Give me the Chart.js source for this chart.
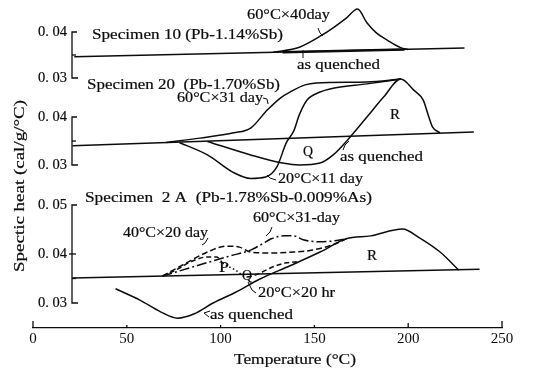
<!DOCTYPE html>
<html>
<head>
<meta charset="utf-8">
<script src="https://cdn.jsdelivr.net/npm/chart.js@4.4.1/dist/chart.umd.min.js"></script>
<style>
  body { margin: 0; background: #fff; }
  canvas { display: block; }
</style>
</head>
<body>
<canvas id="myChart" width="536" height="372"></canvas>
<script>
// temperature axis (°C)
const xTicks = [0, 50, 100, 150, 200, 250];

// Specimen 10 (Pb-1.14%Sb)
const s10BaseT = [22, 230];
const s10BaseV = [0.0346, 0.0365];
const s10QuenchT = [133, 198];
const s10QuenchV = [0.0356, 0.0362];
const s10AgedT = [128, 142, 154, 160, 167, 173, 178, 183, 189, 196, 200];
const s10AgedV = [0.0356, 0.0367, 0.0393, 0.0409, 0.0430, 0.0450, 0.0420, 0.0398, 0.0382, 0.0366, 0.0362];

// Specimen 20 (Pb-1.70%Sb)
const s20BaseT = [21, 235];
const s20BaseV = [0.0340, 0.0369];
const s20Aged60T = [71, 89, 107, 116, 125, 132, 137, 145, 151, 178, 196];
const s20Aged60V = [0.0347, 0.0356, 0.0367, 0.0377, 0.0415, 0.0440, 0.0452, 0.0467, 0.0471, 0.0473, 0.0479];
const s20Aged20T = [78, 93, 107, 116, 124, 130, 135, 139, 142, 146, 153, 160, 178, 196];
const s20Aged20V = [0.0347, 0.0321, 0.0284, 0.0272, 0.0275, 0.0296, 0.0346, 0.0371, 0.0405, 0.0435, 0.0452, 0.0460, 0.0469, 0.0479];
const s20QuenchT = [93, 116, 133, 142, 153, 160, 169, 178, 187, 196, 203, 208, 211, 213, 217];
const s20QuenchV = [0.0349, 0.0321, 0.0304, 0.0300, 0.0304, 0.0321, 0.0358, 0.0400, 0.0442, 0.0479, 0.0456, 0.0435, 0.0400, 0.0379, 0.0367];

// Specimen 2A (Pb-1.78%Sb-0.009%As)
const s2aBaseT = [21, 238];
const s2aBaseV = [0.0351, 0.0369];
const s2aQuenchT = [44, 57, 68, 77, 86, 96, 108, 121, 137, 153, 167, 180, 197, 206, 217, 227];
const s2aQuenchV = [0.0329, 0.0306, 0.0282, 0.0269, 0.0278, 0.0300, 0.0322, 0.0349, 0.0376, 0.0404, 0.0431, 0.0437, 0.0451, 0.0433, 0.0404, 0.0367];
const s2a40T = [69, 80, 93, 103, 110, 116, 126, 139, 149, 162, 167];
const s2a40V = [0.0355, 0.0378, 0.0404, 0.0416, 0.0414, 0.0404, 0.0402, 0.0404, 0.0408, 0.0422, 0.0431];
const s2a60T = [69, 89, 105, 116, 122, 127, 134, 139, 144, 153, 161, 167];
const s2a60V = [0.0355, 0.0378, 0.0396, 0.0408, 0.0420, 0.0431, 0.0437, 0.0437, 0.0429, 0.0425, 0.0427, 0.0431];
const s2a20hT = [69, 77, 84, 93, 98, 101, 108, 114, 121, 128, 135, 142];
const s2a20hV = [0.0355, 0.0369, 0.0384, 0.0394, 0.0394, 0.0382, 0.0367, 0.0353, 0.0361, 0.0374, 0.0382, 0.0384];

const INK = '#0c0c0c';
const SERIF = '"Liberation Serif", "DejaVu Serif", serif';

const pts = (t, v) => t.map((x, i) => ({ x: x, y: v[i] }));

const line = (t, v, axis, extra) => Object.assign({
  data: pts(t, v),
  yAxisID: axis,
  borderColor: INK,
  borderWidth: 1.5,
  pointRadius: 0,
  fill: false,
  cubicInterpolationMode: 'monotone'
}, extra || {});

const datasets = [
  line(s10BaseT, s10BaseV, 'y1', { cubicInterpolationMode: 'default', tension: 0 }),
  line(s10QuenchT, s10QuenchV, 'y1', { cubicInterpolationMode: 'default', tension: 0, borderWidth: 2.4 }),
  line(s10AgedT, s10AgedV, 'y1'),
  line(s20BaseT, s20BaseV, 'y2', { cubicInterpolationMode: 'default', tension: 0 }),
  line(s20Aged60T, s20Aged60V, 'y2'),
  line(s20Aged20T, s20Aged20V, 'y2'),
  line(s20QuenchT, s20QuenchV, 'y2'),
  line(s2aBaseT, s2aBaseV, 'y3', { cubicInterpolationMode: 'default', tension: 0 }),
  line(s2aQuenchT, s2aQuenchV, 'y3'),
  line(s2a40T, s2a40V, 'y3', { borderDash: [6, 3] }),
  line(s2a60T, s2a60V, 'y3', { borderDash: [10, 3, 2, 3] }),
  line(s2a20hT, s2a20hV, 'y3', {
    borderDash: [5, 3],
    segment: {
      borderDash: c => (c.p0DataIndex >= 5 && c.p1DataIndex <= 7) ? [1.5, 2.5] : undefined
    }
  })
];

// draws a string stretched to a given width, like the typeset original
function fitText(ctx, str, x, y, w, size) {
  ctx.save();
  ctx.font = size + 'px ' + SERIF;
  ctx.textBaseline = 'middle';
  ctx.textAlign = 'left';
  const m = ctx.measureText(str).width;
  ctx.translate(x, y);
  ctx.scale(w / m, 1);
  ctx.lineWidth = 0.2;
  ctx.fillText(str, 0, 0);
  ctx.strokeText(str, 0, 0);
  ctx.restore();
}

function seg(ctx, pts) {
  ctx.beginPath();
  ctx.moveTo(pts[0][0], pts[0][1]);
  for (let i = 1; i < pts.length; i++) ctx.lineTo(pts[i][0], pts[i][1]);
  ctx.stroke();
}

const decor = {
  id: 'decor',
  afterDatasetsDraw(chart) {
    const ctx = chart.ctx;
    const xs = chart.scales.x;
    const axX = 72;
    ctx.save();
    ctx.fillStyle = INK;
    ctx.strokeStyle = INK;

    // panel brackets and value labels
    const panels = [
      { id: 'y1', vals: [0.04, 0.03] },
      { id: 'y2', vals: [0.04, 0.03] },
      { id: 'y3', vals: [0.05, 0.04, 0.03] }
    ];
    panels.forEach(p => {
      const s = chart.scales[p.id];
      const top = s.getPixelForValue(p.vals[0]);
      const bot = s.getPixelForValue(p.vals[p.vals.length - 1]);
      ctx.lineWidth = 1.3;
      seg(ctx, [[axX + 5, top], [axX, top], [axX, bot], [axX + 6, bot]]);
      const mid = s.getPixelForValue(0.035);
      seg(ctx, [[axX, mid], [axX + 4, mid]]);
      if (p.vals.length === 3) {
        const m4 = s.getPixelForValue(0.04);
        seg(ctx, [[axX - 3, m4], [axX + 4, m4]]);
      }
      p.vals.forEach(v => {
        const y = s.getPixelForValue(v);
        fitText(ctx, '0. 0' + Math.round(v * 100), 38, y, 29, 14);
      });
    });

    // upward ticks on the temperature axis
    const yb = chart.chartArea.bottom;
    ctx.lineWidth = 1.3;
    xTicks.forEach((v, i) => {
      const x = xs.getPixelForValue(v);
      const len = (i === 0 || i === xTicks.length - 1) ? 7 : (v === 200 ? 5 : 3);
      seg(ctx, [[x, yb], [x, yb - len]]);
    });

    // axis titles
    fitText(ctx, 'Temperature (°C)', 234, 360, 122, 15);
    ctx.save();
    ctx.translate(20, 272);
    ctx.rotate(-Math.PI / 2);
    fitText(ctx, 'Spectic heat (cal/g/°C)', 0, 0, 172, 15);
    ctx.restore();

    // annotations
    const notes = [
      ['60°C×40day', 247, 15, 83],
      ['Specimen 10 (Pb-1.14%Sb)', 92, 35, 191],
      ['as quenched', 297, 65, 83],
      ['Specimen 20  (Pb-1.70%Sb)', 87, 85, 193],
      ['60°C×31 day', 177, 98, 86],
      ['as quenched', 340, 157, 83],
      ['20°C×11 day', 278, 179, 85],
      ['Specimen  2 A  (Pb-1.78%Sb-0.009%As)', 85, 198, 287],
      ['60°C×31-day', 253, 218, 87],
      ['40°C×20 day', 123, 233, 85],
      ['20°C×20 hr', 258, 293, 77],
      ['as quenched', 210, 315, 83]
    ];
    notes.forEach(n => fitText(ctx, n[0], n[1], n[2], n[3], 14));
    const letters = [['R', 390, 115], ['Q', 303, 152], ['R', 367, 256], ['P', 219, 268], ['Q', 242, 276]];
    letters.forEach(l => fitText(ctx, l[0], l[1], l[2], 10, 15));

    // leader hooks
    ctx.lineWidth = 1;
    seg(ctx, [[318, 28], [320, 33], [323, 36]]);
    seg(ctx, [[303, 50], [303, 58]]);
    seg(ctx, [[263, 98], [267, 99], [268, 104]]);
    seg(ctx, [[343, 150], [345, 145], [349, 141]]);
    seg(ctx, [[276, 180], [270, 178], [267, 175]]);
    seg(ctx, [[208, 238], [205, 243], [202, 245]]);
    seg(ctx, [[272, 227], [270, 232], [266, 236]]);
    seg(ctx, [[256, 293], [252, 290], [248, 282]]);
    seg(ctx, [[210, 311], [204, 313], [209, 317]]);
    ctx.restore();
  }
};

new Chart(document.getElementById('myChart'), {
  type: 'line',
  data: { datasets: datasets },
  options: {
    responsive: false,
    animation: false,
    devicePixelRatio: 1,
    layout: { padding: { left: 33, right: 34, top: 0, bottom: 0 } },
    plugins: { legend: { display: false }, tooltip: { enabled: false } },
    scales: {
      x: {
        type: 'linear',
        min: 0,
        max: 250,
        afterBuildTicks: s => { s.ticks = xTicks.map(v => ({ value: v })); },
        afterFit: s => { s.height = 44; },
        grid: { drawOnChartArea: false, drawTicks: false },
        border: { display: true, color: INK, width: 1.3 },
        ticks: { color: INK, font: { family: SERIF, size: 15 }, padding: 2, maxRotation: 0 }
      },
      // three stacked panels share the chart height; ranges set so each panel sits in its band
      y1: { type: 'linear', display: false, min: -0.024348, max: 0.046957 },
      y2: { type: 'linear', display: false, min: -0.003958, max: 0.064375 },
      y3: { type: 'linear', display: false, min: 0.024898, max: 0.091837 }
    }
  },
  plugins: [decor]
});
</script>
</body>
</html>
